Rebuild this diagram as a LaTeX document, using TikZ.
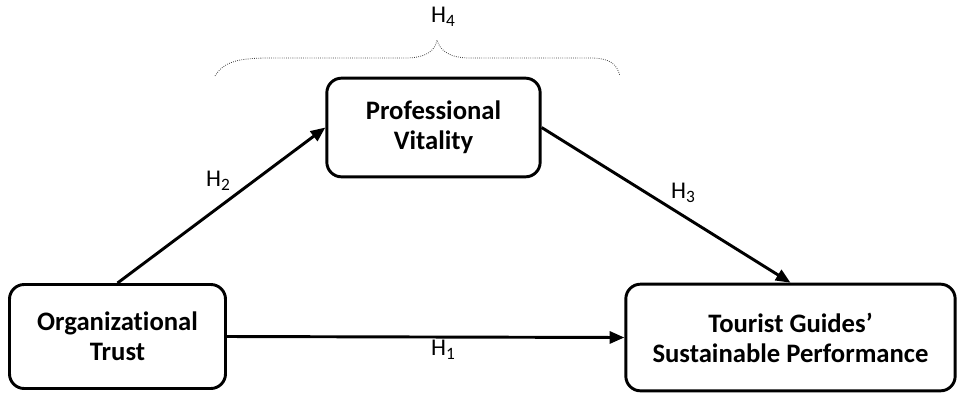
\documentclass[tikz,border=0pt]{standalone}
\usepackage{fontspec}
\setmainfont{Carlito}[Ligatures=NoCommon]
\usetikzlibrary{arrows.meta}
\newcommand{\hypLabel}[1]{H\raisebox{-0.35ex}{\fontsize{13}{13}\selectfont #1}}

\begin{document}
\begin{tikzpicture}
[x=0.75pt,y=-0.75pt,
  darkArrow/.style={-{Triangle[length=11pt,width=9pt]},line width=2.2pt},%
  boxDecorate/.style={shape=rectangle,rounded corners=11pt,draw,line width=2.2pt,
    align=center,font=\fontsize{20}{22.5}\selectfont\bfseries},%
  labelText/.style={font=\fontsize{18}{21}\selectfont,inner sep=1pt},%
  braceLine/.style={densely dotted,line width=0.6pt,color=black!75}]
\useasboundingbox (0,0) rectangle (958,394);
%% boxes
\node (orgTrust) at (117.5,336.5) [boxDecorate,minimum width=162pt,minimum height=78pt] {Organizational\\Trust};
\node (profVitality) at (433.5,127.5) [boxDecorate,minimum width=160pt,minimum height=74pt] {Professional\\Vitality};
\node (guidePerf) at (790.5,337.5) [boxDecorate,minimum width=247pt,minimum height=80pt] {Tourist Guides’\\Sustainable Performance};
%% arrows
\draw[darkArrow] (orgTrust.east) -- (guidePerf.west);
\draw[darkArrow] (orgTrust.north) -- (profVitality.west);
\draw[darkArrow] (profVitality.east) -- (guidePerf.north);
%% labels
\node (hOne) at (443,350) [labelText] {\hypLabel{1}};
\node (hTwo) at (218,181) [labelText] {\hypLabel{2}};
\node (hThree) at (683,193) [labelText] {\hypLabel{3}};
\node (hFour) at (443,17) [labelText] {\hypLabel{4}};
%% brace
\coordinate (braceL) at (215,76);
\coordinate (braceTip) at (437,40);
\coordinate (braceR) at (620,76);
\draw[braceLine] (braceL) .. controls (224,61) and (240,58) .. (270,58) -- (405,58)
  .. controls (426,58) and (435,51) .. (braceTip)
  .. controls (440,51) and (450,58) .. (470,58) -- (590,58)
  .. controls (610,58) and (617,64) .. (braceR);
\end{tikzpicture}
\end{document}
